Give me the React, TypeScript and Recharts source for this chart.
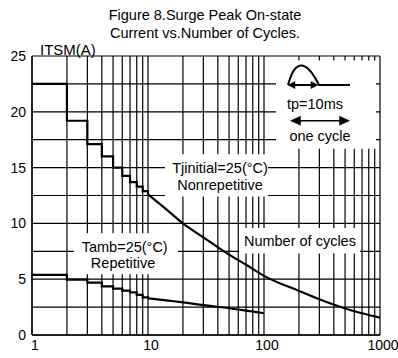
import React from 'react';
import { LineChart, Line, XAxis, YAxis, CartesianGrid, ReferenceArea, ReferenceDot } from 'recharts';

const FONT = '"Liberation Sans", Arial, Helvetica, sans-serif';

const X_TICKS = [1, 2, 3, 4, 5, 6, 7, 8, 9, 10, 20, 30, 40, 50, 60, 70, 80, 90, 100, 200, 300, 400, 500, 600, 700, 800, 900, 1000];
const X_LABELS = [1, 10, 100, 1000];
const Y_TICKS = [0, 2.5, 5, 7.5, 10, 12.5, 15, 17.5, 20, 22.5, 25];
const Y_LABELS = [0, 5, 10, 15, 20, 25];

const NONREP_STEP_CYCLES = [1, 2, 3, 4, 5, 6, 7, 8, 9, 10];
const NONREP_STEP_ITSM = [22.5, 19.2, 17.1, 16.0, 15.0, 14.25, 13.7, 13.3, 12.9, 12.6];
const NONREP_CURVE_CYCLES = [10, 15, 20, 30, 50, 70, 100, 200, 300, 500, 700, 1000];
const NONREP_CURVE_ITSM = [12.6, 11.1, 10.0, 8.75, 7.2, 6.3, 5.3, 3.95, 3.2, 2.38, 1.95, 1.55];

const REP_STEP_CYCLES = [1, 2, 3, 4, 5, 6, 7, 8, 9, 10];
const REP_STEP_ITSM = [5.38, 4.97, 4.69, 4.36, 4.15, 3.97, 3.82, 3.6, 3.37, 3.28];
const REP_CURVE_CYCLES = [10, 15, 20, 30, 50, 70, 100];
const REP_CURVE_ITSM = [3.28, 3.08, 2.93, 2.68, 2.4, 2.18, 1.95];

const BOXES = [
  { x1: 127, x2: 924, y1: 16.7, y2: 24.6 },
  { x1: 14, x2: 108, y1: 12.4, y2: 16.2 },
  { x1: 2.3, x2: 18.1, y1: 5.44, y2: 9.12 },
  { x1: 61, x2: 672, y1: 7.31, y2: 9.58 },
];

const TEXTS = [
  { x: 41.8, y: 15.0, text: 'Tjinitial=25(°C)' },
  { x: 41.8, y: 13.45, text: 'Nonrepetitive' },
  { x: 6.3, y: 7.89, text: 'Tamb=25(°C)' },
  { x: 6.1, y: 6.47, text: 'Repetitive' },
  { x: 204, y: 8.4, text: 'Number of cycles' },
  { x: 275, y: 20.7, text: 'tp=10ms' },
  { x: 304, y: 17.8, text: 'one cycle' },
];

const PULSE_ANCHOR = { x: 161, y: 22.4 };
const CYCLE_ARROW_ANCHOR = { x: 304, y: 19.2 };

const zip = (xs: number[], ys: number[]) => xs.map((x, i) => ({ x, y: ys[i] }));

const nonrepStep = zip(NONREP_STEP_CYCLES, NONREP_STEP_ITSM);
const nonrepCurve = zip(NONREP_CURVE_CYCLES, NONREP_CURVE_ITSM);
const repStep = zip(REP_STEP_CYCLES, REP_STEP_ITSM);
const repCurve = zip(REP_CURVE_CYCLES, REP_CURVE_ITSM);

const TextShape = (text: string) => (p: any) => (
  <text x={p.cx} y={p.cy} textAnchor="middle" dominantBaseline="central" fontFamily={FONT} fontSize={14.5} fill="#000">
    {text}
  </text>
);

const PulseShape = (p: any) => {
  const x = p.cx;
  const y = p.cy;
  return (
    <g stroke="#000" fill="none">
      <path d={`M${x},${y} C${x + 7},${y - 26} ${x + 18},${y - 26} ${x + 31},${y} L${x + 62},${y}`} strokeWidth={2} />
      <line x1={x + 4} y1={y} x2={x + 26} y2={y} strokeWidth={2} />
      <path d={`M${x},${y} L${x + 7},${y - 3.5} L${x + 7},${y + 3.5} Z`} fill="#000" strokeWidth={0.5} />
      <path d={`M${x + 30},${y} L${x + 23},${y - 3.5} L${x + 23},${y + 3.5} Z`} fill="#000" strokeWidth={0.5} />
    </g>
  );
};

const CycleArrowShape = (p: any) => {
  const x = p.cx;
  const y = p.cy;
  const h = 29.5;
  return (
    <g stroke="#000">
      <line x1={x - h + 6} y1={y} x2={x + h - 6} y2={y} strokeWidth={1.6} />
      <path d={`M${x - h},${y} L${x - h + 10},${y - 4.5} L${x - h + 10},${y + 4.5} Z`} fill="#000" strokeWidth={0.5} />
      <path d={`M${x + h},${y} L${x + h - 10},${y - 4.5} L${x + h - 10},${y + 4.5} Z`} fill="#000" strokeWidth={0.5} />
    </g>
  );
};

export default function App() {
  return (
    <div style={{ position: 'absolute', left: 0, top: 0, width: 398, height: 358, background: '#fff' }}>
      <LineChart width={398} height={358} margin={{ top: 56, right: 18, bottom: 0, left: 0 }} style={{ fontFamily: FONT }}>
        <CartesianGrid stroke="#000" strokeWidth={1.2} strokeOpacity={1} zIndex={-100} />
        <XAxis
          dataKey="x"
          type="number"
          scale="log"
          domain={[1, 1000]}
          ticks={X_TICKS}
          interval={0}
          allowDataOverflow
          height={23}
          tickLine={false}
          tickSize={0}
          tickMargin={5}
          axisLine={{ stroke: '#000', strokeWidth: 1.3 }}
          tick={{ fill: '#000', fontSize: 14, fontFamily: FONT, dx: 3 }}
          tickFormatter={(v: number) => (X_LABELS.includes(v) ? String(v) : '')}
        />
        <YAxis
          type="number"
          domain={[0, 25]}
          ticks={Y_TICKS}
          interval={0}
          width={32}
          tickLine={false}
          tickSize={0}
          tickMargin={6}
          axisLine={{ stroke: '#000', strokeWidth: 1.3 }}
          tick={{ fill: '#000', fontSize: 14, fontFamily: FONT }}
          tickFormatter={(v: number) => (Y_LABELS.includes(v) ? String(v) : '')}
        />
        {BOXES.map((b, i) => (
          <ReferenceArea
            key={`box${i}`}
            x1={b.x1}
            x2={b.x2}
            y1={b.y1}
            y2={b.y2}
            fill="#fff"
            fillOpacity={1}
            stroke="none"
            ifOverflow="visible"
            zIndex={50}
          />
        ))}
        <Line data={nonrepStep} dataKey="y" type="stepAfter" stroke="#000" strokeWidth={2.2} dot={false} isAnimationActive={false} />
        <Line data={nonrepCurve} dataKey="y" type="monotone" stroke="#000" strokeWidth={2.2} dot={false} isAnimationActive={false} />
        <Line data={repStep} dataKey="y" type="stepAfter" stroke="#000" strokeWidth={2.2} dot={false} isAnimationActive={false} />
        <Line data={repCurve} dataKey="y" type="monotone" stroke="#000" strokeWidth={2.2} dot={false} isAnimationActive={false} />
        {TEXTS.map((t, i) => (
          <ReferenceDot key={`t${i}`} x={t.x} y={t.y} r={0} shape={TextShape(t.text)} />
        ))}
        <ReferenceDot x={PULSE_ANCHOR.x} y={PULSE_ANCHOR.y} r={0} shape={PulseShape} />
        <ReferenceDot x={CYCLE_ARROW_ANCHOR.x} y={CYCLE_ARROW_ANCHOR.y} r={0} shape={CycleArrowShape} />
      </LineChart>
      <svg width={398} height={358} style={{ position: 'absolute', left: 0, top: 0, pointerEvents: 'none' }}>
        <text x={205} y={20} textAnchor="middle" fontFamily={FONT} fontSize={14.5} fill="#000">
          Figure 8.Surge Peak On-state
        </text>
        <text x={205} y={38} textAnchor="middle" fontFamily={FONT} fontSize={14.5} fill="#000">
          Current vs.Number of Cycles.
        </text>
        <text x={40} y={55} fontFamily={FONT} fontSize={15} fill="#000">
          ITSM(A)
        </text>
      </svg>
    </div>
  );
}
